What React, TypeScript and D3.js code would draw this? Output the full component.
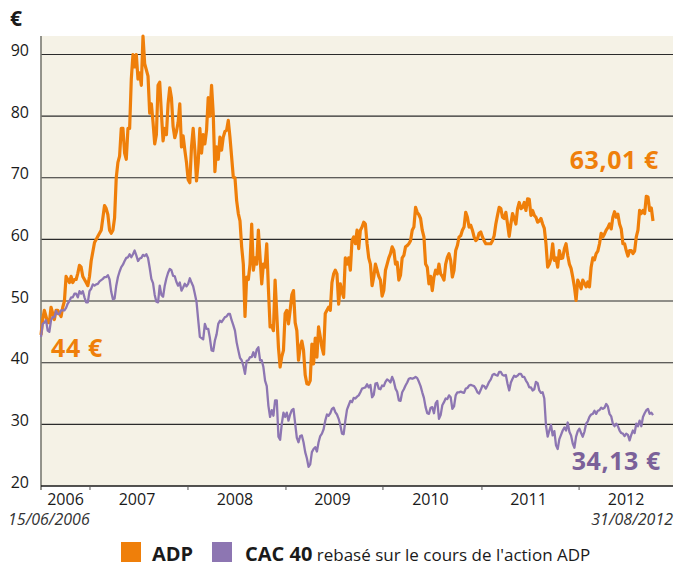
import React, { useEffect } from "react";
import * as d3 from "d3";

// ADP share price (EUR), sampled at regular intervals from 15/06/2006 to 31/08/2012
const adp: number[] = [
  44.5, 47, 48.5, 47.5, 46.5, 46.5, 49, 48, 47, 48.5, 48.5, 48, 47.5, 49, 50, 54,
  53.5, 53, 54, 53, 53.5, 53.5, 54.5, 55.8, 55.5, 54, 53.5, 53, 52.5, 54,
  56.5, 58, 59.5, 60, 60.5, 61, 61.5, 63.5, 65.5, 65, 64, 61.5, 61, 61.5, 63.5, 70,
  72.5, 73.5, 78, 78, 74, 73, 78, 78, 86, 90, 88, 90, 86, 87,
  85, 93, 88.5, 87.5, 86.5, 80.5, 82, 79, 75.5, 77, 85, 85.5, 80.5, 76, 78, 77,
  82, 84.6, 83, 78.3, 76.5, 77.5, 79, 82, 75, 76.8, 74.5, 72.5, 69.7, 69.2,
  75, 78, 74.5, 69.5, 72.5, 78, 74, 77, 75.5, 77.7, 83, 80, 85, 80.4, 71, 75,
  73, 76.6, 74.5, 76.6, 77.5, 77.7, 79.3, 76.6, 73.4, 70.1, 70, 66.3, 64.2, 63,
  58.8, 56, 47.5, 53.9, 53.5, 56, 62.5, 55, 57, 56, 61.5, 57.1, 52.8, 56, 55.5, 59.3,
  52, 45.8, 46, 45.2, 53.4, 47.9, 42.5, 39.3, 41, 42, 48, 48.5, 46.3, 48.5,
  51, 51.7, 46.5, 45.2, 40.4, 42.5, 43.5, 42, 38, 36.6, 36.5, 37.1, 43, 39.8, 44, 40.9,
  45.8, 44.2, 42.5, 41.4, 48, 48.5, 49, 48.5, 53, 54.4, 55, 54.4, 49.5, 52.8,
  51.5, 50.6, 57, 56, 57, 55, 59.8, 60.4, 59.3, 61.5, 58.5, 61.5, 62, 62.8, 62.5, 59.3,
  57, 56, 52.5, 53.9, 56, 55, 54, 53.4, 50.8, 51.7, 55, 56, 57, 57.7,
  58.8, 58.2, 56, 56.3, 53.4, 54.2, 57, 57.4, 58.8, 59, 59.3, 59.8, 61.5, 62, 65.2, 64.4,
  64, 63.4, 61.5, 60.4, 56, 55.5, 52.8, 54, 51.7, 53.9, 55, 54.4, 56, 54.4,
  54, 53.4, 56, 57.1, 57.7, 56.6, 53.9, 55, 58.2, 59, 60.4, 60.6, 61.5, 62, 64.4, 63.6,
  62, 62.3, 61.5, 60.4, 59.8, 60.1, 61, 61.2, 60.4, 59.8, 59.3, 59.3, 59.3, 59.3,
  59.8, 60.6, 62.5, 63.9, 65.2, 65, 63.6, 63.4, 64.4, 62.5, 60.5, 62.5, 64.2, 63.4, 62.5, 65,
  66, 65, 65.2, 66, 64.7, 66.6, 66.5, 63.9, 64.7, 63.9, 63.6, 62.8, 63, 63.4,
  62.5, 61.8, 59.3, 55.5, 56, 56.9, 59.3, 56.6, 57, 55.5, 58.2, 56.9, 57, 58.5, 59.3, 57.4,
  56, 55.3, 53.9, 52.3, 50.1, 53.4, 52.8, 52, 53.4, 52.9, 52.3, 53.1, 52.3, 55.5,
  57, 56.7, 57.7, 58.1, 59.3, 61, 60.4, 60.9, 61.5, 61.9, 62.5, 61.7, 63.6, 64.5, 63.6, 64.1,
  62.5, 61.7, 59.3, 59.3, 58.2, 57.3, 58.2, 58.2, 57.7, 58.1, 60.4, 61.5, 64.7, 64.2,
  64.7, 64.2, 67, 66.9, 64.7, 65.1, 63,
];

// CAC 40 rebased on the ADP share price, same sampling
const cac: number[] = [
  44.2, 46.3, 46.5, 46.9, 45.2, 45, 46.9, 47.4, 47.4, 48.4, 47.9, 47.9, 48.5, 48.5, 48.5, 48.9,
  49.6, 50, 50.6, 50.6, 51.2, 51.2, 50.6, 51.6, 51.2, 51.6, 50.6, 49.8, 49.8, 51.6,
  52, 52.7, 52.5, 52.7, 52.8, 53.2, 53.4, 53.6, 53.9, 53.9, 54.2, 53.5, 51.5, 50.3, 50.4, 52.5,
  53.9, 54.8, 55.5, 55.9, 56.5, 57, 57.1, 57.6, 57.1, 57.6, 58.2, 57.4, 56.5, 56.9,
  57, 57.5, 57.3, 57.6, 57, 55.4, 53.6, 52.9, 51, 49.9, 49.8, 52.5, 51, 50.7, 52.5, 53.7,
  54.6, 55.2, 55, 54.1, 54, 53.1, 52.5, 53, 51.7, 52.2, 52.8, 52.4, 52.8, 53.7,
  53, 52.4, 51.2, 49.9, 47, 44.2, 44, 43.8, 46.3, 45.5, 45.5, 44, 42, 41.9, 43.6, 44.6,
  46.3, 46.8, 46.6, 47, 47.4, 47.5, 47.9, 47.9, 46.9, 46.1, 45.2, 43.3, 42, 40.8,
  40.4, 39.5, 38.2, 40.3, 40.4, 40.9, 40.9, 41.7, 40.9, 42.1, 42.5, 40.4, 40.4, 39.3, 37.1, 36.2,
  33, 31.2, 32.3, 31.4, 33.9, 33.9, 28, 27.5, 30.1, 31.9, 31.2, 31.9, 30.6, 31.6,
  32.3, 32.5, 30.1, 27.8, 27.1, 28.1, 28.2, 27.1, 25.5, 24.5, 23.1, 23.5, 25.5, 26, 26.3, 25.6,
  27.1, 28.1, 28.5, 29.2, 30.6, 31.6, 31.4, 31.8, 32.5, 32.7, 32, 31.6, 30.9, 29.9,
  28.5, 28.4, 30.6, 32.4, 33.1, 33.8, 33.6, 34.3, 34.2, 34.5, 34.7, 35.2, 35.8, 35.9, 36, 36.5,
  36, 36.4, 34.4, 34.8, 36.6, 36.7, 35.8, 35.7, 36.3, 36.2, 36.9, 37.3, 37.1, 36.8,
  37.7, 37, 35.8, 35.3, 33.9, 33.8, 35.2, 35.7, 36.3, 36.8, 37.4, 37.5, 37.4, 37.5, 37.7, 37.5,
  36.9, 36.2, 35.2, 34.3, 32.8, 31.8, 31.7, 32.7, 32.8, 31.8, 33.4, 33.8, 30.9, 31.5,
  33.1, 33.6, 34.2, 34.1, 34.7, 34.4, 32.5, 32.9, 34.7, 35.2, 35.2, 35.3, 35.2, 35.1, 35.8, 35.9,
  36.3, 36.4, 36.3, 36.2, 35.8, 35.2, 35, 35.6, 36.3, 36.2, 35.8, 36.3, 36.9, 37.3,
  38, 38.2, 38, 37.9, 38.5, 38.5, 38, 37.9, 38, 36.6, 35.5, 36.8, 37.4, 37.9, 37.7, 37.9,
  38.2, 38.2, 37.7, 37.7, 37.1, 36.7, 36, 36, 35.5, 35.7, 36.9, 36.7, 35.5, 35.1,
  35.2, 34.2, 29.8, 28, 29, 29.9, 28.2, 28.9, 26.6, 26, 27.6, 28.3, 29, 29.5, 29, 30.3,
  28.8, 28.2, 26.9, 26.2, 28, 28.9, 29.3, 28.6, 28, 28.8, 30.1, 30.5, 31.2, 31.6,
  31.7, 32.2, 31.7, 32.2, 32.3, 32.7, 32.5, 32.7, 33.3, 32.9, 31.7, 31.3, 30.1, 29.7, 30.1, 29.7,
  29, 28.6, 28.5, 28.1, 28.5, 28.3, 27.4, 28.3, 29, 28.6, 30.1, 29.7, 30.6, 29.7,
  31.2, 31.8, 32.3, 32.5, 31.7, 31.9, 31.5,
];

const yTicks: number[] = [20, 30, 40, 50, 60, 70, 80, 90];
const years: string[] = ["2006", "2007", "2008", "2009", "2010", "2011", "2012"];
// sample positions of year boundaries (first = series start)
const yearBounds: number[] = [0, 29.3, 87.9, 146.5, 204.5, 263.7, 321.8, 380.4];
const startDate = "15/06/2006";
const endDate = "31/08/2012";
const adpFirstLabel = "44 €";
const adpLastLabel = "63,01 €";
const cacLastLabel = "34,13 €";
const legendItems = [
  { key: "ADP", bold: "ADP", rest: "" },
  { key: "CAC", bold: "CAC 40", rest: " rebasé sur le cours de l'action ADP" },
];

const ORANGE = "#EF7F0A";
const PURPLE = "#8D76B2";
const PURPLE_TEXT = "#7B6199";
const BG = "#F5F2E6";
const FONT = "'Open Sans', 'DejaVu Sans', sans-serif";

export default function App() {
  useEffect(() => {
    document.body.style.margin = "0";
  }, []);

  const W = 678;
  const H = 568;
  const left = 41;
  const right = 673;
  const top = 36;
  const bottom = 486;

  const x = d3.scaleLinear().domain([0, adp.length - 1]).range([41, 653]);
  const y = d3.scaleLinear().domain([20, 93]).range([bottom, top]);
  const line = d3
    .line<number>()
    .x((_, i) => x(i))
    .y((d) => y(d));

  return (
    <svg width={W} height={H} style={{ display: "block", fontFamily: FONT }}>
      <rect x={0} y={0} width={W} height={H} fill="#ffffff" />
      <rect x={left} y={top} width={right - left} height={bottom - top} fill={BG} />
      {yTicks
        .filter((t) => t > 20)
        .map((t) => (
          <line key={t} x1={left} x2={right} y1={y(t)} y2={y(t)} stroke="#2b2b2b" strokeWidth={1.1} />
        ))}
      {/* left axis */}
      <line x1={left} x2={left} y1={top} y2={bottom + 4} stroke="#7a7a72" strokeWidth={1.6} />
      {/* bottom axis */}
      <line x1={left} x2={right} y1={bottom} y2={bottom} stroke="#1a1a1a" strokeWidth={1.5} />
      {yearBounds.slice(1, 7).map((b, i) => (
        <line key={i} x1={x(b)} x2={x(b)} y1={bottom} y2={bottom + 4} stroke="#555" strokeWidth={1} />
      ))}
      {yTicks.map((t) => (
        <text key={t} x={29} y={y(t) + 1.5} textAnchor="end" fontSize={16} fill="#1a1a1a">
          {t}
        </text>
      ))}
      <text x={10} y={26} fontSize={21} fontWeight={700} fill="#1a1a1a">
        €
      </text>
      {years.map((yr, i) => (
        <text
          key={yr}
          x={x((yearBounds[i] + yearBounds[i + 1]) / 2) - (i === 0 ? 0 : 2)}
          y={505}
          textAnchor="middle"
          fontSize={16}
          fill="#1a1a1a"
        >
          {yr}
        </text>
      ))}
      <text x={8} y={525} fontSize={16} fontStyle="italic" fill="#333">
        {startDate}
      </text>
      <text x={673} y={525} fontSize={16} fontStyle="italic" fill="#333" textAnchor="end">
        {endDate}
      </text>

      <path d={line(adp) || ""} fill="none" stroke={ORANGE} strokeWidth={3.2} strokeLinejoin="round" />
      <path d={line(cac) || ""} fill="none" stroke={PURPLE} strokeWidth={2.3} strokeLinejoin="round" />

      <text x={51} y={357} fontSize={25} fontWeight={700} fill={ORANGE} letterSpacing={0.6}>
        {adpFirstLabel}
      </text>
      <text x={659} y={169} fontSize={25} fontWeight={700} fill={ORANGE} textAnchor="end" letterSpacing={0.6}>
        {adpLastLabel}
      </text>
      <text x={661} y={470} fontSize={25} fontWeight={700} fill={PURPLE_TEXT} textAnchor="end" letterSpacing={0.6}>
        {cacLastLabel}
      </text>

      {/* legend */}
      <rect x={121} y={542} width={20} height={20} fill={ORANGE} />
      <text x={152} y={561} fontSize={20} fontWeight={700} fill="#1a1a1a">
        {legendItems[0].bold}
      </text>
      <rect x={212} y={542} width={20} height={20} fill={PURPLE} />
      <text x={245} y={561} fill="#1a1a1a">
        <tspan fontSize={20} fontWeight={700}>
          {legendItems[1].bold}
        </tspan>
        <tspan fontSize={17}>{legendItems[1].rest}</tspan>
      </text>
    </svg>
  );
}
